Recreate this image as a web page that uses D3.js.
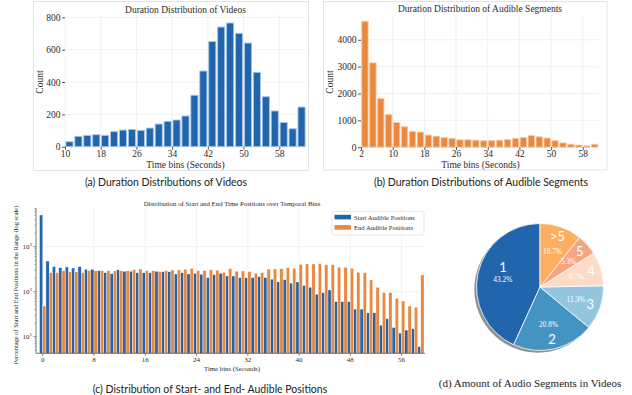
<!DOCTYPE html>
<html>
<head>
<meta charset="utf-8">
<script src="https://cdn.jsdelivr.net/npm/d3@7"></script>
<style>
  body { margin: 0; background: #fff; }
  svg { display: block; }
</style>
</head>
<body>
<svg id="fig" width="632" height="395"></svg>
<script>
// ---------- data ----------
// (a) video durations, 2-second bins
const videoBinStart = [10,12,14,16,18,20,22,24,26,28,30,32,34,36,38,40,42,44,46,48,50,52,54,56,58,60,62];
const videoCounts   = [31,64,70,74,70,93,103,107,101,115,140,157,165,190,318,468,650,740,765,701,641,460,309,221,150,111,245];
const videoTicks    = [10,18,26,34,42,50,58];
const videoYTicks   = [0,200,400,600,800];

// (b) audible segment durations, 2-second bins
const segBinStart = [2,4,6,8,10,12,14,16,18,20,22,24,26,28,30,32,34,36,38,40,42,44,46,48,50,52,54,56,58,60];
const segCounts   = [4690,3140,1810,1220,920,760,590,560,450,410,360,330,275,275,260,240,240,260,290,330,360,430,385,340,240,160,110,80,50,110];
const segTicks    = [2,10,18,26,34,42,50,58];
const segYTicks   = [0,1000,2000,3000,4000];

// (c) start / end positions per 1-second bin (log scale)
const posBins = [0,1,2,3,4,5,6,7,8,9,10,11,12,13,14,15,16,17,18,19,20,21,22,23,24,25,26,27,28,29,
                 30,31,32,33,34,35,36,37,38,39,40,41,42,43,44,45,46,47,48,49,50,51,52,53,54,55,56,57,58,59];
const startPos = [5060,480,360,340,354,336,359,314,314,293,264,251,305,283,283,264,264,264,283,278,
                  278,247,264,247,255,243,205,239,255,223,223,205,203,205,215,205,190,165,185,155,
                  164,138,125,88,95,109,60,60,60,41,41,34,34,18,25,16,12,14,15,6];
const endPos   = [48,264,264,293,278,278,264,293,293,293,293,288,293,293,308,319,293,293,280,293,
                  303,303,314,330,293,295,305,300,270,325,285,288,280,255,264,318,320,325,340,330,
                  405,412,412,420,398,398,348,348,330,269,264,182,125,95,95,71,62,48,45,235];
const posTicks = [0,8,16,24,32,40,48,56];
const logMajor = [10,100,1000];
const seriesNames = ["Start Audible Positions","End Audible Positions"];

// (d) number of audio segments per video
const segAmountLabels = ["1","2","3","4","5",">5"];
const segAmountPct    = [43.2,20.8,11.3,8.7,5.3,10.7];

// ---------- styles ----------
const SERIF = '"Liberation Serif", "DejaVu Serif", serif';
const SANS  = 'Lato, "Open Sans", sans-serif';
const BLUE = "#2166ac", ORANGE = "#e9883e";
const GRID = "#ededed", INK = "#2b2b2b";
const pieColors = ["#2166ac","#4393c3","#92c5de","#fddbc7","#f4a582","#fdae61"];

const svg = d3.select("#fig");

function text(g, x, y, str, o = {}) {
  return g.append("text")
    .attr("x", x).attr("y", y)
    .attr("text-anchor", o.anchor || "middle")
    .attr("font-family", o.font || SERIF)
    .attr("font-size", o.size || 9.5)
    .attr("fill", o.fill || INK)
    .attr("transform", o.rotate ? `rotate(${o.rotate},${x},${y})` : null)
    .text(str);
}

// ---------- histogram panel ----------
function histPanel(cfg) {
  const g = svg.append("g");
  g.append("rect").attr("x", cfg.frame[0]).attr("y", cfg.frame[1])
    .attr("width", cfg.frame[2]).attr("height", cfg.frame[3])
    .attr("fill", "#fff").attr("stroke", "#e4e4e4").attr("stroke-width", 1);

  const x = d3.scaleLinear().domain(cfg.xDomain).range(cfg.xRange);
  const y = d3.scaleLinear().domain(cfg.yDomain).range(cfg.yRange);

  // grid
  g.append("g").selectAll("line").data(cfg.xTicks).join("line")
    .attr("x1", d => x(d)).attr("x2", d => x(d))
    .attr("y1", cfg.yRange[0]).attr("y2", cfg.yRange[1])
    .attr("stroke", GRID).attr("stroke-width", 0.8);
  g.append("g").selectAll("line").data(cfg.yTicks).join("line")
    .attr("x1", cfg.xRange[0]).attr("x2", cfg.xRange[1])
    .attr("y1", d => y(d)).attr("y2", d => y(d))
    .attr("stroke", GRID).attr("stroke-width", 0.8);

  // bars
  const bw = cfg.binWidth;
  g.append("g").selectAll("rect").data(cfg.starts).join("rect")
    .attr("x", d => x(d + bw * 0.1))
    .attr("width", d => x(d + bw * 0.9) - x(d + bw * 0.1))
    .attr("y", (d, i) => y(cfg.values[i]))
    .attr("height", (d, i) => y(0) - y(cfg.values[i]))
    .attr("fill", cfg.color).attr("stroke", cfg.edge).attr("stroke-width", 0.9);

  // axes
  const ax = g.append("g").attr("transform", `translate(0,${cfg.yRange[0]})`)
    .call(d3.axisBottom(x).tickValues(cfg.xTicks).tickFormat(d3.format("d")).tickSize(3).tickPadding(0.5));
  const ay = g.append("g").attr("transform", `translate(${cfg.xRange[0]},0)`)
    .call(d3.axisLeft(y).tickValues(cfg.yTicks).tickFormat(d3.format("d")).tickSize(3).tickPadding(1.5));
  [ax, ay].forEach(a => {
    a.select(".domain").remove();
    a.selectAll(".tick line").attr("stroke", INK).attr("stroke-width", 0.8);
    a.selectAll(".tick text").attr("font-family", SERIF).attr("font-size", 9.5).attr("fill", INK);
  });

  text(g, cfg.title[0], cfg.title[1], cfg.titleText);
  text(g, cfg.xlab[0], cfg.xlab[1], "Time bins (Seconds)");
  text(g, cfg.ylab[0], cfg.ylab[1], "Count", { rotate: -90 });
  text(g, cfg.cap[0], cfg.cap[1], cfg.capText, { font: SANS, size: 10.5, fill: "#222" });
}

histPanel({
  frame: [33.5, 1.5, 275, 169],
  xDomain: [10, 64], xRange: [65, 306],
  yDomain: [0, 820], yRange: [146.7, 14.1],
  starts: videoBinStart, values: videoCounts, binWidth: 2,
  xTicks: videoTicks, yTicks: videoYTicks,
  color: BLUE, edge: "#a9c7e6",
  title: [185.5, 13.3], titleText: "Duration Distribution of Videos",
  xlab: [185.5, 167.5], ylab: [43, 82],
  cap: [166, 186], capText: "(a) Duration Distributions of Videos"
});

histPanel({
  frame: [323.5, 1.5, 283.5, 168.5],
  xDomain: [2, 62], xRange: [361, 598.6],
  yDomain: [0, 4900], yRange: [147.2, 15.6],
  starts: segBinStart, values: segCounts, binWidth: 2,
  xTicks: segTicks, yTicks: segYTicks,
  color: ORANGE, edge: "#f6c9a4",
  title: [480, 12.3], titleText: "Duration Distribution of Audible Segments",
  xlab: [480.5, 168], ylab: [333, 82],
  cap: [481, 186], capText: "(b) Duration Distributions of Audible Segments"
});

// ---------- (c) start / end positions ----------
(function () {
  const g = svg.append("g");
  const left = 36, right = 425, top = 208, bottom = 353.3;
  const x = d3.scaleLinear().domain([-1.05, 59.65]).range([left, right]);
  const y = d3.scaleLog().domain([4.27, 7240]).range([bottom, top]);

  // grid
  g.append("g").selectAll("line").data(posTicks).join("line")
    .attr("x1", d => x(d)).attr("x2", d => x(d)).attr("y1", top).attr("y2", bottom)
    .attr("stroke", GRID).attr("stroke-width", 0.7);
  g.append("g").selectAll("line").data(logMajor).join("line")
    .attr("x1", left).attr("x2", right).attr("y1", d => y(d)).attr("y2", d => y(d))
    .attr("stroke", GRID).attr("stroke-width", 0.7);

  // bars: start bar left of the bin edge, end bar right of it
  g.append("g").selectAll("rect").data(posBins).join("rect")
    .attr("x", d => x(d - 0.5)).attr("width", d => x(d) - x(d - 0.5))
    .attr("y", (d, i) => y(startPos[i])).attr("height", (d, i) => bottom - y(startPos[i]))
    .attr("fill", BLUE).attr("stroke", "#fff").attr("stroke-width", 0.35);
  g.append("g").selectAll("rect").data(posBins).join("rect")
    .attr("x", d => x(d)).attr("width", d => x(d + 0.5) - x(d))
    .attr("y", (d, i) => y(endPos[i])).attr("height", (d, i) => bottom - y(endPos[i]))
    .attr("fill", ORANGE).attr("stroke", "#fff").attr("stroke-width", 0.35);

  // spines
  g.append("line").attr("x1", left).attr("x2", left).attr("y1", top).attr("y2", bottom)
    .attr("stroke", "#555").attr("stroke-width", 0.8);
  g.append("line").attr("x1", left).attr("x2", right).attr("y1", bottom).attr("y2", bottom)
    .attr("stroke", "#555").attr("stroke-width", 0.8);

  // x ticks
  const xt = g.append("g").selectAll("g").data(posTicks).join("g");
  xt.append("line").attr("x1", d => x(d)).attr("x2", d => x(d))
    .attr("y1", bottom).attr("y2", bottom + 2.5).attr("stroke", "#555").attr("stroke-width", 0.7);
  xt.append("text").attr("x", d => x(d)).attr("y", bottom + 8.6)
    .attr("text-anchor", "middle").attr("font-family", SERIF).attr("font-size", 7).attr("fill", INK)
    .text(d => d);

  // y ticks: majors with labels, minors unlabeled
  const [lo, hi] = y.domain();
  const minors = [];
  for (let e = 0; e <= 3; e++) for (let k = 2; k <= 9; k++) {
    const v = k * Math.pow(10, e);
    if (v >= lo && v <= hi) minors.push(v);
  }
  g.append("g").selectAll("line").data(minors).join("line")
    .attr("x1", left - 1.5).attr("x2", left).attr("y1", d => y(d)).attr("y2", d => y(d))
    .attr("stroke", "#555").attr("stroke-width", 0.5);
  const yt = g.append("g").selectAll("g").data(logMajor).join("g");
  yt.append("line").attr("x1", left - 2.5).attr("x2", left).attr("y1", d => y(d)).attr("y2", d => y(d))
    .attr("stroke", "#555").attr("stroke-width", 0.7);
  const lab = yt.append("text").attr("x", left - 4).attr("y", d => y(d) + 2.6)
    .attr("text-anchor", "end").attr("font-family", SERIF).attr("font-size", 7).attr("fill", INK);
  lab.append("tspan").text("10");
  lab.append("tspan").attr("dy", -3).attr("font-size", 5).text(d => Math.round(Math.log10(d)));

  text(g, 232, 205.5, "Distribution of Start and End Time Positions over Temporal Bins", { size: 6.8 });
  text(g, 232, 370.5, "Time bins (Seconds)", { size: 6.8 });
  text(g, 17.5, 285, "Percentage of Start and End Positions in the Range (log scale)", { size: 6.4, rotate: -90 });

  // legend
  const lg = g.append("g");
  lg.append("rect").attr("x", 332).attr("y", 211.5).attr("width", 92).attr("height", 23.5)
    .attr("rx", 1.5).attr("fill", "#fff").attr("fill-opacity", 0.85)
    .attr("stroke", "#d6d6d6").attr("stroke-width", 0.6);
  seriesNames.forEach((name, i) => {
    lg.append("rect").attr("x", 334.5).attr("y", 214.8 + i * 10.3).attr("width", 16.5).attr("height", 4.6)
      .attr("fill", i ? ORANGE : BLUE);
    text(lg, 354, 219.6 + i * 10.3, name, { anchor: "start", size: 6.6 });
  });

  text(g, 210, 392.5, "(c) Distribution of Start- and End- Audible Positions", { font: SANS, size: 10.5, fill: "#222" });
})();

// ---------- (d) pie ----------
(function () {
  const cx = 540, cy = 287, r = 63.5;
  const g = svg.append("g").attr("transform", `translate(${cx},${cy})`);
  // counter-clockwise from 12 o'clock
  const pie = d3.pie().sort(null).startAngle(0).endAngle(-2 * Math.PI);
  const arcs = pie(segAmountPct);
  const arc = d3.arc().innerRadius(0).outerRadius(r);

  // drop shadow
  g.append("circle").attr("cx", -2.2).attr("cy", 2.2).attr("r", r)
    .attr("fill", "#6b6b6b").attr("opacity", 0.75);

  g.selectAll("path.w").data(arcs).join("path").attr("class", "w")
    .attr("d", arc).attr("fill", (d, i) => pieColors[i])
    .attr("stroke", "#fff").attr("stroke-width", 0.8);

  const nudge = { "1": { rf: 0.66, da: 15.6 } };
  const polar = (d, rf, daDeg) => {
    const a = (d.startAngle + d.endAngle) / 2 + (daDeg || 0) * Math.PI / 180;
    return [rf * r * Math.sin(a), -rf * r * Math.cos(a)];
  };
  arcs.forEach((d, i) => {
    const key = segAmountLabels[i];
    const nd = nudge[key] || { rf: 0.84, da: 0 };
    const [lx, ly] = polar(d, nd.rf, nd.da);
    text(g, lx, ly + 4.6, key, { font: SANS, size: 13, fill: "#fff" });
    const [px, py] = polar(d, 0.6, 0);
    text(g, px, py + 2.6, segAmountPct[i].toFixed(1) + "%", { size: 7.4, fill: "#fff" });
  });

  text(svg, 530, 386.5, "(d) Amount of Audio Segments in Videos", { size: 11, fill: "#222" });
})();
</script>
</body>
</html>
